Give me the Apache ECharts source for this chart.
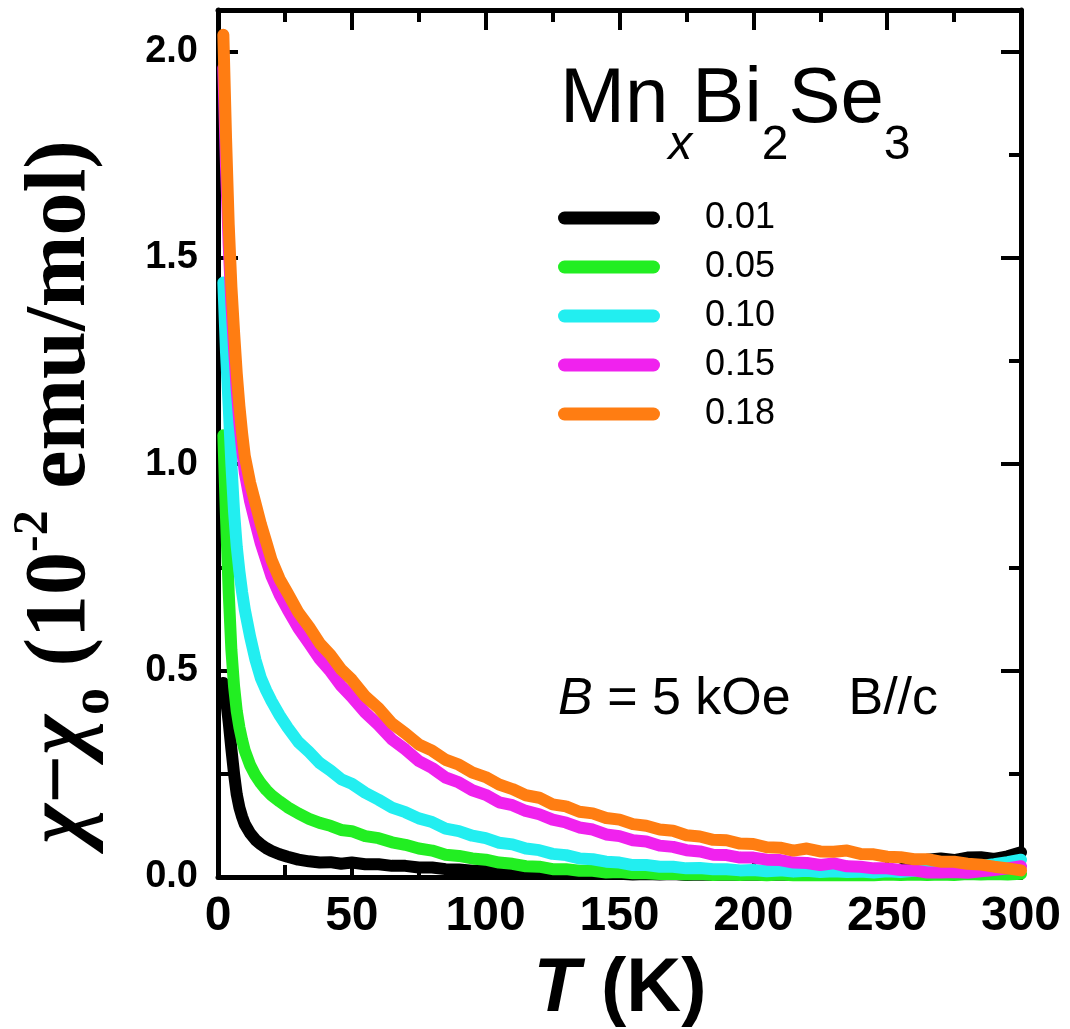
<!DOCTYPE html>
<html><head><meta charset="utf-8">
<script src="https://cdn.jsdelivr.net/npm/echarts@6/dist/echarts.min.js"></script>
<style>html,body{margin:0;padding:0;background:#fff}#c{width:1070px;height:1029px}</style>
</head><body><div id="c"></div>
<script>
const temps = [2,3,4,5,6,7,8,9,10,12,14,16,18,20,23,26,30,34,38,42,46,50,55,60,65,70,75,80,85,90,95,100,105,110,115,120,125,130,135,140,145,150,155,160,165,170,175,180,185,190,195,200,205,210,215,220,225,230,235,240,245,250,255,260,265,270,275,280,285,290,295,300];

const chi001 = [0.47,0.43,0.375,0.31,0.25,0.2,0.168,0.146,0.128,0.106,0.09,0.079,0.07,0.063,0.055,0.049,0.042,0.038,0.035,0.036,0.032,0.035,0.031,0.031,0.027,0.027,0.023,0.023,0.019,0.018,0.015,0.016,0.012,0.013,0.01,0.011,0.009,0.01,0.008,0.009,0.007,0.008,0.006,0.007,0.006,0.007,0.005,0.006,0.005,0.006,0.005,0.006,0.005,0.006,0.005,0.006,0.005,0.006,0.006,0.007,0.008,0.01,0.018,0.031,0.042,0.045,0.041,0.047,0.048,0.044,0.05,0.06];

const chi005 = [1.07,0.87,0.69,0.55,0.462,0.402,0.362,0.332,0.306,0.271,0.246,0.227,0.211,0.198,0.183,0.169,0.154,0.141,0.131,0.124,0.114,0.111,0.099,0.094,0.084,0.078,0.069,0.064,0.054,0.051,0.045,0.042,0.035,0.032,0.026,0.025,0.019,0.019,0.015,0.015,0.011,0.012,0.009,0.009,0.007,0.008,0.006,0.007,0.005,0.006,0.005,0.006,0.004,0.006,0.004,0.005,0.004,0.005,0.004,0.005,0.004,0.006,0.005,0.006,0.005,0.006,0.005,0.007,0.006,0.007,0.006,0.008];

const chi010 = [1.44,1.27,1.14,1.0,0.885,0.8,0.74,0.69,0.648,0.582,0.526,0.482,0.452,0.426,0.392,0.362,0.327,0.303,0.276,0.258,0.237,0.226,0.204,0.187,0.168,0.157,0.142,0.133,0.117,0.111,0.1,0.094,0.083,0.079,0.069,0.065,0.056,0.053,0.045,0.043,0.037,0.035,0.029,0.029,0.025,0.025,0.021,0.022,0.019,0.019,0.016,0.017,0.014,0.016,0.013,0.015,0.012,0.014,0.012,0.013,0.011,0.014,0.012,0.015,0.016,0.021,0.027,0.031,0.027,0.031,0.036,0.042];

const chi015 = [1.96,1.72,1.53,1.39,1.28,1.18,1.1,1.035,0.98,0.91,0.858,0.808,0.768,0.728,0.684,0.648,0.603,0.566,0.528,0.498,0.463,0.436,0.398,0.368,0.333,0.309,0.281,0.264,0.241,0.229,0.21,0.199,0.181,0.174,0.16,0.152,0.139,0.132,0.12,0.115,0.103,0.099,0.089,0.086,0.076,0.073,0.065,0.062,0.054,0.053,0.047,0.047,0.042,0.041,0.035,0.034,0.029,0.033,0.026,0.025,0.021,0.021,0.017,0.016,0.011,0.011,0.012,0.01,0.014,0.017,0.021,0.026];

const chi018 = [2.04,1.79,1.58,1.43,1.32,1.22,1.14,1.075,1.02,0.955,0.905,0.855,0.812,0.768,0.722,0.688,0.641,0.606,0.566,0.538,0.503,0.478,0.438,0.409,0.372,0.348,0.321,0.306,0.284,0.272,0.253,0.242,0.224,0.213,0.198,0.192,0.176,0.171,0.158,0.154,0.143,0.139,0.128,0.124,0.115,0.112,0.101,0.098,0.09,0.089,0.081,0.08,0.072,0.071,0.064,0.069,0.062,0.061,0.064,0.056,0.055,0.049,0.048,0.043,0.043,0.037,0.037,0.032,0.03,0.025,0.021,0.016];

const seriesNames = ['0.01','0.05','0.10','0.15','0.18'];
const seriesValues = [chi001, chi005, chi010, chi015, chi018];
const seriesColors = ['#000000','#22ee22','#22eef0','#f022ee','#ff7d12'];
const xTickValues = [0,50,100,150,200,250,300];
const yTickValues = [0.0,0.5,1.0,1.5,2.0];

const chart = echarts.init(document.getElementById('c'), null, {renderer:'canvas'});
const BLK = '#000';
const SANS = 'Liberation Sans, Arial, sans-serif';
const SERIF = 'Liberation Serif, Times New Roman, serif';
const tickStyle = {color:BLK, width:4};
function xAx(pos, showLabel){
  return {type:'value', position:pos, min:0, max:300, interval:50, gridIndex:0,
    axisLine:{show:true, onZero:false, lineStyle:{color:BLK, width:5}},
    axisTick:{show:true, inside:true, length:20, lineStyle:tickStyle},
    minorTick:{show:true, splitNumber:2, length:12, lineStyle:tickStyle},
    splitLine:{show:false}, minorSplitLine:{show:false},
    axisLabel:{show:showLabel, margin:16, fontSize:48, fontWeight:'bold', fontFamily:SANS, color:BLK,
      formatter:function(v){ return xTickValues.indexOf(v)>=0 ? String(v) : ''; }}
  };
}
function yAx(pos, interval, len, showLabel, showLine){
  return {type:'value', position:pos, min:0, max:2.1, interval:interval, gridIndex:0,
    axisLine:{show:showLine, onZero:false, lineStyle:{color:BLK, width:5}},
    axisTick:{show:true, inside:true, length:len, lineStyle:tickStyle},
    splitLine:{show:false},
    axisLabel:{show:showLabel, showMaxLabel:false, margin:20, fontSize:38, fontWeight:'bold', fontFamily:SANS, color:BLK,
      formatter:function(v){ return yTickValues.indexOf(v)>=0 ? v.toFixed(1) : ''; }}
  };
}

const series = seriesNames.map(function(n,i){
  return {name:n, type:'line', xAxisIndex:0, yAxisIndex:0, showSymbol:false, symbol:'none',
    color:seriesColors[i], lineStyle:{width:12, color:seriesColors[i], join:'round', cap:'round'},
    data: temps.map(function(t,k){ return [t, seriesValues[i][k]]; }), z: 3+i, animation:false};
});

const option = {
  animation:false,
  backgroundColor:'#ffffff',
  grid:{left:218, right:49, top:10, bottom:152, containLabel:false},
  xAxis:[xAx('bottom', true), xAx('top', false)],
  yAxis:[yAx('left',0.5,20,true,true), yAx('left',0.25,12,false,false), yAx('right',0.5,20,false,true), yAx('right',0.25,12,false,false)],
  title:[
    {left:560, top:30, padding:0,
     text:'{a|Mn}{b|x}{a|Bi}{c|2}{a|Se}{c|3}',
     textStyle:{fontWeight:'normal', rich:{
       a:{fontSize:78, fontWeight:'normal', fontFamily:SANS, color:BLK},
       b:{fontSize:48, fontWeight:'normal', fontStyle:'italic', fontFamily:SANS, color:BLK, padding:[92,0,0,0]},
       c:{fontSize:48, fontWeight:'normal', fontFamily:SANS, color:BLK, padding:[92,0,0,0]}
     }}},
    {left:558, top:674, padding:0,
     text:'{i|B}{n| = 5 kOe    B//c}',
     textStyle:{fontWeight:'normal', rich:{
       i:{fontSize:52, fontWeight:'normal', fontStyle:'italic', fontFamily:SANS, color:BLK},
       n:{fontSize:52, fontWeight:'normal', fontFamily:SANS, color:BLK}
     }}}
  ],
  legend:{
    data:seriesNames, orient:'vertical', left:558, top:200, padding:0,
    itemWidth:102, itemHeight:13, itemGap:13,
    icon:'path://M6.5,0 H95.5 A6.5,6.5 0 0 1 95.5,13 H6.5 A6.5,6.5 0 0 1 6.5,0 Z',
    textStyle:{fontSize:36, fontWeight:'normal', fontFamily:SANS, color:BLK, padding:[0,0,0,40], lineHeight:36},
    selectedMode:false
  },
  graphic:[
    {type:'text', x:62, y:492, rotation:Math.PI/2, z:10,
     style:{text:'{c|χ}{n|−}{c|χ}{s|o}{n| (10}{p|-2}{n| emu/mol)}', align:'center', verticalAlign:'middle',
       rich:{
         n:{fontSize:86, fontWeight:'bold', fontFamily:SERIF, fill:BLK},
         c:{fontSize:86, fontWeight:'bold', fontStyle:'italic', fontFamily:SERIF, fill:BLK},
         s:{fontSize:54, fontWeight:'bold', fontFamily:SERIF, fill:BLK, padding:[64,0,0,0]},
         p:{fontSize:50, fontWeight:'bold', fontFamily:SERIF, fill:BLK, padding:[0,0,56,0]}
       }}},
    {type:'text', x:620, y:990, z:10,
     style:{text:'{i|T}{n| (K)}', align:'center', verticalAlign:'middle',
       rich:{
         i:{fontSize:76, fontWeight:'bold', fontStyle:'italic', fontFamily:SANS, fill:BLK},
         n:{fontSize:76, fontWeight:'bold', fontFamily:SANS, fill:BLK}
       }}}
  ],
  series:series
};
chart.setOption(option);
</script>
</body></html>
